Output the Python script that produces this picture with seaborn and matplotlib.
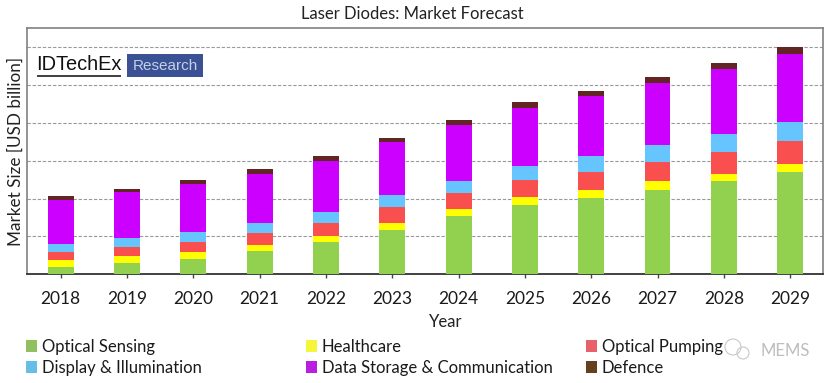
import matplotlib
matplotlib.use("Agg")
import matplotlib.pyplot as plt
import seaborn as sns
import numpy as np
from matplotlib.patches import Rectangle, Patch, Ellipse

years = ["2018","2019","2020","2021","2022","2023","2024","2025","2026","2027","2028","2029"]
optical_sensing = [0.20,0.30,0.40,0.61,0.84,1.18,1.54,1.84,2.01,2.23,2.46,2.69]
healthcare      = [0.18,0.18,0.18,0.17,0.17,0.17,0.18,0.20,0.21,0.22,0.19,0.23]
optical_pumping = [0.20,0.23,0.28,0.30,0.35,0.42,0.42,0.46,0.49,0.52,0.58,0.61]
display_illum   = [0.22,0.24,0.25,0.28,0.29,0.33,0.33,0.37,0.40,0.43,0.47,0.48]
data_storage    = [1.16,1.22,1.27,1.30,1.35,1.39,1.48,1.51,1.59,1.65,1.72,1.81]
defence         = [0.10,0.09,0.11,0.12,0.12,0.12,0.12,0.16,0.14,0.15,0.16,0.18]
series_names = ["Optical Sensing","Healthcare","Optical Pumping","Display & Illumination",
                "Data Storage & Communication","Defence"]
series_values = [optical_sensing,healthcare,optical_pumping,display_illum,data_storage,defence]
bar_colors = ["#92D050","#FFFF00","#F94F4F","#66C4FF","#CC00FF","#632523"]
legend_colors = ["#92C060","#F5F53A","#E8606A","#66BDE6","#B81FE0","#64401F"]

sns.set_theme(style="white")
plt.rcParams['font.family'] = ['Lato','DejaVu Sans']
W,H = 834,383
fig = plt.figure(figsize=(W/100,H/100),dpi=100,facecolor="white")
ax = fig.add_axes([27/W,1-274.3/H,(822.7-27)/W,(274.3-28)/H])

bottom = np.zeros(len(years))
for name,vals,c in zip(series_names,series_values,bar_colors):
    sns.barplot(x=years,y=vals,bottom=bottom,color=c,saturation=1,width=0.39,ax=ax,zorder=3,linewidth=0,label=name)
    bottom += np.array(vals)
if ax.get_legend(): ax.get_legend().remove()

ax.set_xlim(-0.508,11.49); ax.set_ylim(0,6.5)
ax.set_yticks([1,2,3,4,5,6]); ax.set_yticklabels([])
ax.grid(axis="y",linestyle=(0,(3,1.6)),color="#999999",linewidth=0.8,zorder=0)
ax.set_axisbelow(True)
ax.tick_params(axis="y",length=0)
ax.tick_params(axis="x",length=3,width=1,color="#444444",labelsize=12.5,pad=9,labelcolor="#1a1a1a",bottom=True)
for s in ["top","left","right"]:
    ax.spines[s].set_color("#808080"); ax.spines[s].set_linewidth(1.2)
ax.spines["bottom"].set_color("#333333"); ax.spines["bottom"].set_linewidth(1.3)
ax.set_xlabel(""); ax.set_ylabel("")

fig.text(412/W,1-14/H,"Laser Diodes: Market Forecast",ha="center",va="center",fontsize=12,color="#222222")
fig.text(446/W,1-322/H,"Year",ha="center",va="center",fontsize=12,color="#222222")
fig.text(16/W,1-151/H,"Market Size [USD billion]",rotation=90,ha="center",va="center",fontsize=12.3,color="#222222")

# logo
fig.text(36/W,1-65/H,"IDTechEx",ha="left",va="center",fontsize=14.4,color="#111111",family=["Liberation Sans"])
fig.add_artist(Rectangle((37/W,1-77/H),84/W,2/H,transform=fig.transFigure,color="#444444",lw=0))
fig.add_artist(Rectangle((127/W,1-77/H),76/W,23/H,transform=fig.transFigure,color="#3A5294",lw=0))
fig.text(165/W,1-66/H,"Research",ha="center",va="center",fontsize=11,color="#C5D0EA",family=["Liberation Sans"])

# legend, one column at a time
for x,idx in zip([26,306,586],[(0,3),(1,4),(2,5)]):
    h=[Patch(facecolor=legend_colors[i],edgecolor="none",label=series_names[i]) for i in idx]
    fig.legend(handles=h,loc="upper left",bbox_to_anchor=(x/W,1-339/H),frameon=False,fontsize=12,
               handlelength=0.68,handleheight=0.7,handletextpad=0.25,labelspacing=0.3,borderpad=0,borderaxespad=0,labelcolor="#1a1a1a")

# watermark
fig.text(785/W,1-351/H,"MEMS",ha="center",va="center",fontsize=12,color="#bdbdbd")
for cx,cy,r in [(733,347,8),(743,353,6)]:
    fig.add_artist(Ellipse((cx/W,1-cy/H),2*r/W,2*r/H,transform=fig.transFigure,fill=False,edgecolor="#c8c8c8",lw=0.8))
fig.savefig("out.png",dpi=100)
